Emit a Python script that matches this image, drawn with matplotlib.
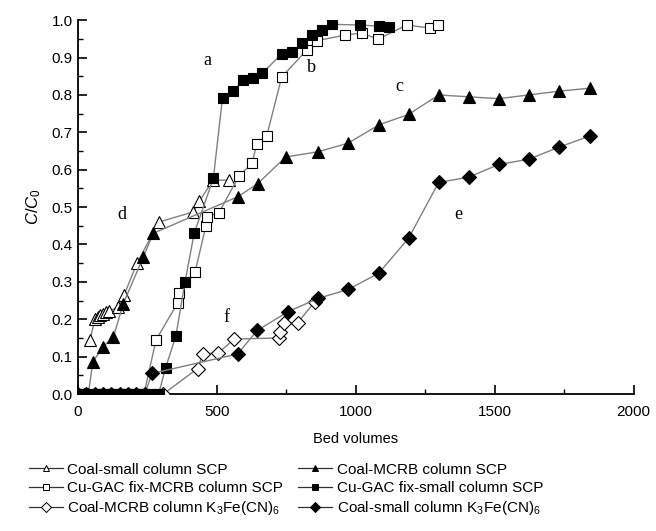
import matplotlib.pyplot as plt
from matplotlib.ticker import MultipleLocator

# Coal-small column SCP (open triangles, d)
tri_open_x = [43, 61, 70, 80, 90, 100, 110, 145, 166, 212, 291, 414, 436, 486, 543]
tri_open_y = [0.145, 0.20, 0.205, 0.21, 0.215, 0.22, 0.222, 0.232, 0.265, 0.35, 0.46, 0.487, 0.515, 0.572, 0.572]

# Coal-MCRB column SCP (filled triangles, c)
tri_fill_x = [0, 20, 37, 53, 88, 127, 163, 235, 271, 576, 647, 747, 864, 972, 1083, 1190, 1298, 1406, 1514, 1622, 1730, 1841]
tri_fill_y = [0, 0, 0, 0.085, 0.125, 0.152, 0.242, 0.367, 0.43, 0.528, 0.563, 0.634, 0.648, 0.671, 0.72, 0.748, 0.80, 0.795, 0.79, 0.80, 0.81, 0.818]

# Cu-GAC fix-MCRB column SCP (open squares, b)
sq_open_x = [0, 40, 80, 120, 160, 200, 237, 281, 358, 363, 421, 460, 464, 507, 579, 626, 643, 679, 733, 823, 859, 960, 1021, 1079, 1183, 1266, 1295]
sq_open_y = [0, 0, 0, 0, 0, 0, 0, 0.145, 0.243, 0.27, 0.326, 0.449, 0.474, 0.485, 0.583, 0.617, 0.668, 0.69, 0.848, 0.92, 0.945, 0.96, 0.966, 0.949, 0.987, 0.979, 0.987]

# Cu-GAC fix-small column SCP (filled squares, a)
sq_fill_x = [0, 20, 40, 60, 80, 100, 120, 140, 160, 180, 200, 220, 240, 260, 280, 290, 315, 352, 385, 418, 487,
             520, 558, 594, 630, 663, 733, 769, 806, 841, 877, 913, 1014, 1083, 1118]
sq_fill_y = [0, 0, 0, 0, 0, 0, 0, 0, 0, 0, 0, 0, 0, 0, 0, 0, 0.07, 0.155, 0.30, 0.43, 0.577,
             0.793, 0.81, 0.84, 0.845, 0.858, 0.91, 0.914, 0.938, 0.96, 0.973, 0.989, 0.987, 0.984, 0.981]

# Coal-MCRB column K3Fe(CN)6 (open diamonds, f)
dia_open_x = [307, 430, 449, 505, 562, 724, 727, 742, 790, 852]
dia_open_y = [0, 0.068, 0.107, 0.11, 0.147, 0.15, 0.166, 0.19, 0.19, 0.247]

# Coal-small column K3Fe(CN)6 (filled diamonds, e)
dia_fill_x = [0, 30, 60, 90, 120, 150, 180, 210, 240, 266, 574, 645, 755, 865, 973, 1082, 1190, 1298, 1406, 1514, 1622, 1730, 1841]
dia_fill_y = [0, 0, 0, 0, 0, 0, 0, 0, 0, 0.055, 0.107, 0.17, 0.22, 0.256, 0.28, 0.323, 0.417, 0.566, 0.58, 0.614, 0.628, 0.66, 0.69]

labels = ["Coal-small column SCP", "Coal-MCRB column SCP",
          "Cu-GAC fix-MCRB column SCP", "Cu-GAC fix-small column SCP",
          "Coal-MCRB column K$_3$Fe(CN)$_6$", "Coal-small column K$_3$Fe(CN)$_6$"]

curve_letters = ["a", "b", "c", "d", "e", "f"]
letter_x = [464, 841, 1158, 158, 1367, 535]
letter_y = [0.893, 0.874, 0.823, 0.479, 0.479, 0.204]

plt.rcParams["font.family"] = ["Liberation Sans", "DejaVu Sans"]
plt.rcParams["mathtext.fontset"] = "custom"
plt.rcParams["mathtext.rm"] = "Liberation Sans"
plt.rcParams["mathtext.it"] = "Liberation Sans:italic"

fig = plt.figure(figsize=(6.56, 5.31), dpi=100)
ax = fig.add_axes([0.119, 0.258, 0.847, 0.704])

line_kw = dict(color="#808080", linewidth=1.0, markeredgecolor="black", markeredgewidth=0.8)

series = [
    (tri_open_x, tri_open_y, "^", "white", 8),
    (sq_open_x, sq_open_y, "s", "white", 6.5),
    (dia_open_x, dia_open_y, "D", "white", 7),
    (tri_fill_x, tri_fill_y, "^", "black", 8),
    (sq_fill_x, sq_fill_y, "s", "black", 6.5),
    (dia_fill_x, dia_fill_y, "D", "black", 7),
]
order = [0, 2, 4, 1, 3, 5]

handles = []
for (x, y, m, fc, ms), li in zip(series, order):
    ax.plot(x, y, marker=m, markerfacecolor=fc, markersize=ms, zorder=3, **line_kw)
    h, = plt.plot([], [], marker=m, markerfacecolor=fc, markersize=5, color="#333333",
                  linewidth=0.9, markeredgecolor="black", markeredgewidth=0.7, label=labels[li])
    handles.append(h)

for t, lx, ly in zip(curve_letters, letter_x, letter_y):
    ax.text(lx, ly, t, fontsize=13, family="Liberation Serif", ha="center", va="center")

ax.set_xlim(0, 2000)
ax.set_ylim(0, 1.0)
ax.xaxis.set_major_locator(MultipleLocator(500))
ax.xaxis.set_minor_locator(MultipleLocator(250))
ax.yaxis.set_major_locator(MultipleLocator(0.1))
ax.yaxis.set_minor_locator(MultipleLocator(0.05))
ax.yaxis.set_major_formatter(plt.FormatStrFormatter("%.1f"))
ax.tick_params(which="major", direction="in", length=6.5, width=1.2, labelsize=11)
ax.tick_params(axis="x", which="major", pad=8)
ax.tick_params(axis="y", which="major", pad=4)
ax.tick_params(which="minor", direction="in", length=3.5, width=1.0)
ax.spines["top"].set_visible(False)
ax.spines["right"].set_visible(False)
ax.spines["left"].set_linewidth(1.3)
ax.spines["bottom"].set_linewidth(1.3)

ax.set_xlabel("Bed volumes", fontsize=10.5, labelpad=9)
ax.set_ylabel("$\\it{C/C}_0$", fontsize=12, labelpad=6)

fig.legend(handles=handles, loc="upper left", bbox_to_anchor=(0.035, 0.14), ncol=2,
           frameon=False, fontsize=11, handlelength=2.2, handletextpad=0.3,
           columnspacing=1.0, labelspacing=0.28, borderaxespad=0)

fig.savefig("out.png", dpi=100)
